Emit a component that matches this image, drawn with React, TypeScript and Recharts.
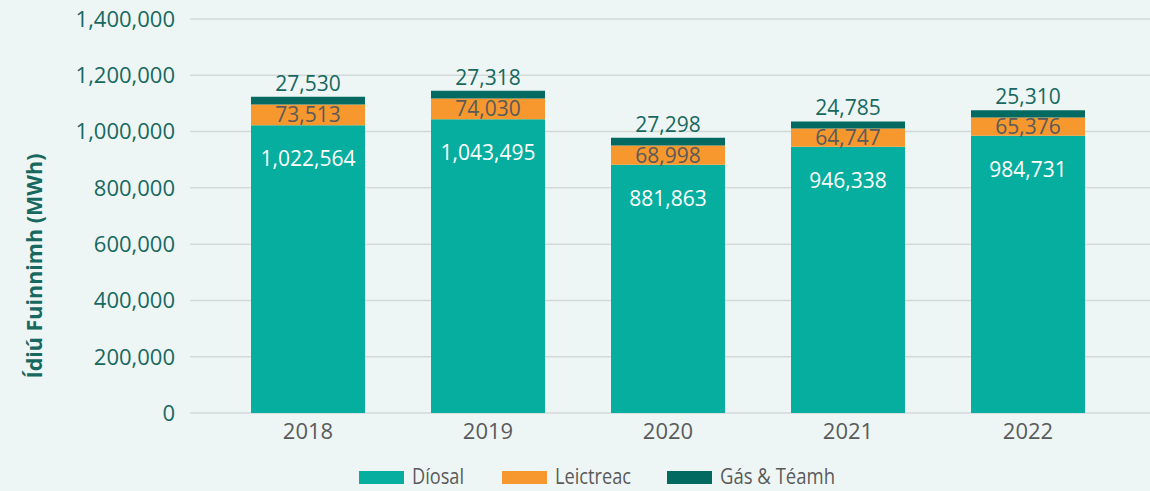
import { BarChart, Bar, XAxis, YAxis, CartesianGrid, LabelList } from "recharts";

const years = ["2018", "2019", "2020", "2021", "2022"];
const diesel = [1022564, 1043495, 881863, 946338, 984731];
const electricity = [73513, 74030, 68998, 64747, 65376];
const gasHeat = [27530, 27318, 27298, 24785, 25310];
const yTicks = [0, 200000, 400000, 600000, 800000, 1000000, 1200000, 1400000];

const COLORS = {
    diesel: "#05ae9e",
    electricity: "#f7982f",
    gasHeat: "#036a61",
    text: "#17685f",
    grey: "#5a5a5a",
    grid: "#d3d9d8",
    bg: "#eef6f5",
};

const legendItems = [
    { name: "Díosal", color: COLORS.diesel, left: 359, textWidth: 52 },
    { name: "Leictreac", color: COLORS.electricity, left: 502, textWidth: 76 },
    { name: "Gás & Téamh", color: COLORS.gasHeat, left: 667, textWidth: 115 },
];

const fmt = (v: number) => v.toLocaleString("en-US");

const data = years.map((year, i) => ({
    year,
    diesel: diesel[i],
    electricity: electricity[i],
    gasHeat: gasHeat[i],
}));

// white label just inside the top of the diesel segment
function DieselLabel(props: any) {
    const { x, y, width, value } = props;
    return (
        <text x={x + width / 2} y={y + 33} fill="#ffffff" fontSize={21}
            textAnchor="middle" dominantBaseline="central">
            {fmt(value)}
        </text>
    );
}

function AxisTitle(props: any) {
    const { viewBox } = props;
    const cx = viewBox.x + 33;
    const cy = viewBox.y + viewBox.height / 2 + 50;
    return (
        <text x={cx} y={cy} transform={`rotate(-90, ${cx}, ${cy})`} textAnchor="middle"
            dominantBaseline="central" fill={COLORS.text} fontSize={21.5} fontWeight={700}>
            Ídiú Fuinnimh (MWh)
        </text>
    );
}

export default function App() {
    return (
        <div style={{
            position: "absolute", left: 0, top: 0, width: 1150, height: 491,
            background: COLORS.bg, fontFamily: "'Open Sans', sans-serif",
        }}>
            <BarChart
                width={1150}
                height={491}
                data={data}
                margin={{ top: 19, right: 0, left: 0, bottom: 48 }}
                barSize={114}
            >
                <CartesianGrid stroke={COLORS.grid} vertical={false} strokeWidth={1.5} />
                <XAxis
                    dataKey="year"
                    axisLine={false}
                    tickLine={false}
                    height={30}
                    tickMargin={4}
                    padding={{ left: 28, right: 32 }}
                    tick={{ fill: COLORS.grey, fontSize: 22 }}
                />
                <YAxis
                    width={190}
                    domain={[0, 1400000]}
                    ticks={yTicks}
                    axisLine={false}
                    tickLine={false}
                    tickMargin={9}
                    tickFormatter={fmt}
                    tick={{ fill: COLORS.text, fontSize: 22 }}
                    label={<AxisTitle />}
                />
                <Bar dataKey="diesel" stackId="a" fill={COLORS.diesel} isAnimationActive={false}>
                    <LabelList dataKey="diesel" content={<DieselLabel />} />
                </Bar>
                <Bar dataKey="electricity" stackId="a" fill={COLORS.electricity} isAnimationActive={false}>
                    <LabelList dataKey="electricity" position="center" formatter={(v: any) => fmt(v)}
                        fill={COLORS.grey} fontSize={21} />
                </Bar>
                <Bar dataKey="gasHeat" stackId="a" fill={COLORS.gasHeat} isAnimationActive={false}>
                    <LabelList dataKey="gasHeat" position="top" offset={6} formatter={(v: any) => fmt(v)}
                        fill={COLORS.text} fontSize={21} />
                </Bar>
            </BarChart>
            <svg width={1150} height={31} style={{ position: "absolute", left: 0, top: 460 }}>
                {legendItems.map((item) => (
                    <g key={item.name}>
                        <rect x={item.left} y={11} width={45} height={13} fill={item.color} />
                        <text x={item.left + 53} y={24} fontSize={22} fill={COLORS.grey}
                            textLength={item.textWidth} lengthAdjust="spacingAndGlyphs">
                            {item.name}
                        </text>
                    </g>
                ))}
            </svg>
        </div>
    );
}
